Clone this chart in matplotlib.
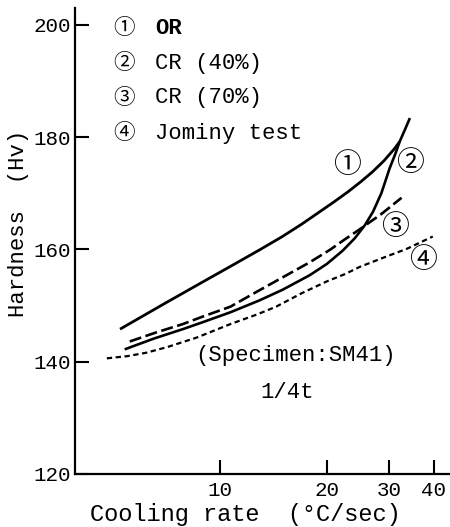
import matplotlib
matplotlib.use("Agg")
import matplotlib.pyplot as plt

# ---- data ----
or_x = [5.23, 7.0, 9.0, 11.0, 13.0, 15.0, 17.0, 19.0, 21.0, 23.0, 25.0, 27.0, 29.0, 31.0, 32.1]
or_y = [145.8, 150.4, 154.3, 157.4, 160.0, 162.3, 164.5, 166.6, 168.5, 170.3, 172.1, 173.9, 175.8, 177.9, 179.2]

cr40_x = [5.39, 6.5, 7.86, 9.0, 10.7, 12.9, 15.0, 17.9, 20.0, 22.2, 24.0, 25.6, 27.0, 28.5, 30.1, 31.2, 32.1, 33.2, 34.3]
cr40_y = [142.2, 144.1, 145.8, 147.1, 148.8, 150.9, 152.8, 155.4, 157.4, 159.8, 162.0, 164.3, 166.7, 170.0, 174.5, 177.0, 179.2, 181.3, 183.4]

cr70_x = [5.57, 6.6, 7.86, 9.0, 10.7, 12.9, 15.0, 17.9, 20.5, 22.5, 24.8, 26.5, 28.5, 30.5, 32.5]
cr70_y = [143.6, 145.2, 146.7, 148.1, 149.8, 152.7, 155.0, 157.7, 160.0, 161.8, 163.6, 164.9, 166.3, 167.8, 169.2]

jom_x = [4.8, 5.5, 6.2, 7.1, 8.6, 10.7, 12.7, 14.4, 17.0, 20.0, 22.5, 24.8, 28.8, 33.6, 39.8]
jom_y = [140.6, 141.0, 141.6, 142.6, 144.3, 146.7, 148.4, 149.8, 152.2, 154.3, 155.6, 156.9, 158.5, 160.1, 162.3]

x_ticks = [10, 20, 30, 40]
y_ticks = [120, 140, 160, 180, 200]

legend_marks = ["①", "②", "③", "④"]
legend_labels = ["OR", "CR (40%)", "CR (70%)", "Jominy test"]

MONO = ["Liberation Mono", "Noto Sans CJK JP"]
CIRC = ["Noto Sans CJK JP", "DejaVu Sans"]

W, H = 450, 527
fig = plt.figure(figsize=(W / 100, H / 100), dpi=100)
fig.patch.set_facecolor("white")

L, R, B, T = 75, 450, 474, 8
ax = fig.add_axes([L / W, (H - B) / H, (R - L) / W, (B - T) / H])

ax.set_xscale("log")
ax.set_xlim(3.905, 44.5)
ax.set_ylim(120, 203.0)

ax.plot(or_x, or_y, color="black", lw=2.0, solid_capstyle="butt", solid_joinstyle="round")
ax.plot(cr40_x, cr40_y, color="black", lw=1.9, solid_capstyle="butt", solid_joinstyle="round")
l3, = ax.plot(cr70_x, cr70_y, color="black", lw=1.9)
l3.set_dashes((4.6, 1.7))
l4, = ax.plot(jom_x, jom_y, color="black", lw=1.6)
l4.set_dashes((2.4, 1.6))

for s in ["top", "right"]:
    ax.spines[s].set_visible(False)
for s in ["left", "bottom"]:
    ax.spines[s].set_linewidth(1.6)

ax.set_xticks(x_ticks)
ax.set_xticklabels([str(v) for v in x_ticks])
ax.xaxis.set_minor_locator(matplotlib.ticker.NullLocator())
ax.set_yticks(y_ticks)
ax.set_yticklabels([str(v) for v in y_ticks])
ax.tick_params(axis="both", direction="in", length=10, width=1.5, labelsize=15, pad=5)
ax.tick_params(axis="y", pad=3)
for lab in ax.get_xticklabels() + ax.get_yticklabels():
    lab.set_family(MONO)

ax.set_xlabel("Cooling rate  (°C/sec)", fontsize=17, family=MONO)
ax.xaxis.set_label_coords((245 - L) / (R - L), (B - 503) / (B - T))
ax.set_ylabel("Hardness  (Hv)", fontsize=16, family=MONO)
ax.yaxis.set_label_coords((29 - L) / (R - L), (B - 223) / (B - T))

def px(x, y):
    return x / W, 1 - y / H

# legend block
rows_y = [28, 63, 98, 133]
for m, lab, yy in zip(legend_marks, legend_labels, rows_y):
    fig.text(*px(124, yy), m, family=CIRC, fontsize=15.5, ha="center", va="center")
    fig.text(*px(155, yy), lab, family=MONO, fontsize=16, ha="left", va="center",
             fontweight="bold" if lab == "OR" else "normal")

# curve labels
for m, (cx, cy) in zip(legend_marks, [(347, 165), (410, 163), (395, 227), (423, 260)]):
    fig.text(*px(cx, cy), m, family=CIRC, fontsize=20, ha="center", va="center")

fig.text(*px(296, 356), "(Specimen:SM41)", family=MONO, fontsize=16, ha="center", va="center")
fig.text(*px(287, 393), "1/4t", family=MONO, fontsize=16, ha="center", va="center")

fig.savefig("out.png", dpi=100, facecolor="white")
